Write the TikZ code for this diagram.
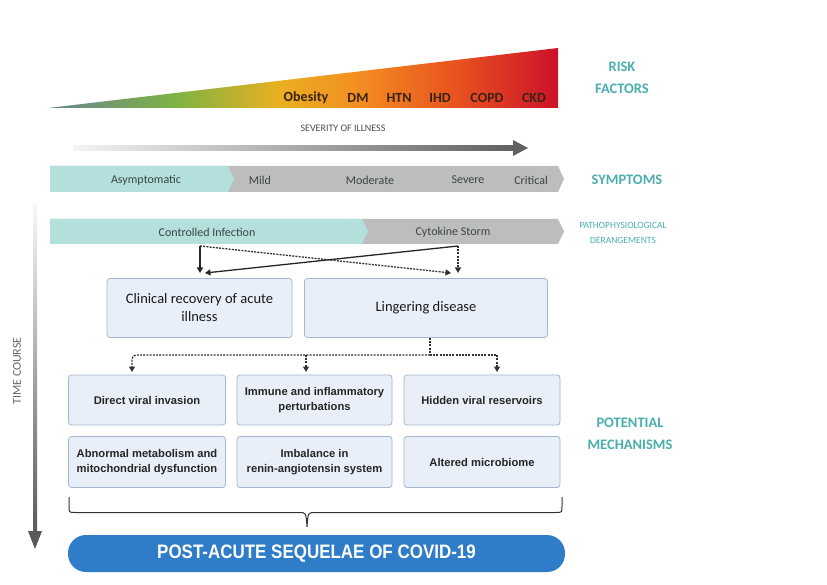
\documentclass[tikz,border=0pt]{standalone}
\usepackage{fontspec}
\setmainfont{Carlito}
\newfontfamily\boxfont{Liberation Sans}
\newfontfamily\bannerfont[FakeStretch=0.87]{Liberation Sans}
\usetikzlibrary{arrows.meta}

\definecolor{tealtxt}{HTML}{4AAEAF}
\definecolor{tealbar}{HTML}{B3E0DC}
\definecolor{graybar}{HTML}{BDBDBD}
\definecolor{bartxt}{HTML}{3A4545}
\definecolor{boxfill}{HTML}{E9EFF8}
\definecolor{boxline}{HTML}{A3B5CF}
\definecolor{pillblue}{HTML}{2F7CC8}
\definecolor{riskA}{HTML}{6A8494}
\definecolor{riskB}{HTML}{7DB343}
\definecolor{riskC}{HTML}{E9B021}
\definecolor{riskD}{HTML}{F39021}
\definecolor{riskE}{HTML}{E8521F}
\definecolor{riskF}{HTML}{CC1129}
\definecolor{risktxt}{HTML}{3A2414}

% left-to-right colour ramp of the risk wedge (stops between 25bp and 75bp span the path)
\pgfdeclarehorizontalshading{riskgrad}{100bp}{%
  color(0bp)=(riskA); color(25bp)=(riskA); color(37.5bp)=(riskB);
  color(47.5bp)=(riskC); color(55bp)=(riskD); color(65bp)=(riskE);
  color(75bp)=(riskF); color(100bp)=(riskF)}

\tikzset{
  headlbl/.style={text=tealtxt, align=center, font=\bfseries\fontsize{14.5}{22}\selectfont},
  barlbl/.style={text=bartxt, font=\fontsize{12}{13}\selectfont},
  risklbl/.style={text=risktxt, font=\bfseries\fontsize{14}{16}\selectfont},
  outcome/.style={draw=boxline, fill=boxfill, line width=0.8pt, rounded corners=3pt,
    align=center, text=black!90, minimum height=59pt, font=\fontsize{14.5}{18}\selectfont},
  mech/.style={draw=boxline, fill=boxfill, line width=0.8pt, rounded corners=3pt,
    align=center, text=black!85, minimum width=155pt,
    font=\boxfont\bfseries\fontsize{11.2}{15}\selectfont},
  solidarr/.style={line width=1.3pt, black!85, -{Triangle[length=5.5pt,width=6pt]}},
  dotline/.style={line width=1.3pt, black!80, dash pattern=on 2pt off 1.2pt},
  dotarr/.style={dotline, -{Triangle[length=5.5pt,width=6pt]}},
}

\begin{document}
\begin{tikzpicture}[x=1pt,y=-1pt]
\useasboundingbox (0,0) rectangle (827,585);

% risk factor wedge
\shade[shading=riskgrad] (48,108) -- (558,108) -- (558,48) -- cycle;
\node[risklbl] (obesity) at (306,98) {Obesity};
\node[risklbl] (dm)   at (358,98) {DM};
\node[risklbl] (htn)  at (399,98) {HTN};
\node[risklbl] (ihd)  at (440,98) {IHD};
\node[risklbl] (copd) at (487,98) {COPD};
\node[risklbl] (ckd)  at (534,98) {CKD};
\node[headlbl] (risk) at (622,78) {RISK\\FACTORS};

% severity arrow
\node[text=black!70, font=\fontsize{10}{11}\selectfont] (sev) at (343,128) {SEVERITY OF ILLNESS};
\shade[left color=black!4, right color=black!62] (73,145.5) rectangle (514,150.5);
\fill[black!62] (513,140) -- (528,148) -- (513,156) -- cycle;

% symptom bar
\fill[graybar] (50,166) -- (558,166) -- (564,179) -- (558,192) -- (50,192) -- cycle;
\fill[tealbar] (50,166) -- (228,166) -- (234,179) -- (228,192) -- (50,192) -- cycle;
\node[barlbl] (asym) at (146,180) {Asymptomatic};
\node[barlbl] (mild) at (260,180) {Mild};
\node[barlbl] (mod)  at (370,180) {Moderate};
\node[barlbl] (sevr) at (468,180) {Severe};
\node[barlbl] (crit) at (531,180) {Critical};
\node[headlbl] (symp) at (627,180) {SYMPTOMS};

% pathophysiology bar
\fill[graybar] (50,219) -- (558,219) -- (564,231.5) -- (558,244) -- (50,244) -- cycle;
\fill[tealbar] (50,219) -- (362,219) -- (368,231.5) -- (362,244) -- (50,244) -- cycle;
\node[barlbl] (ctrl) at (207,232) {Controlled Infection};
\node[barlbl] (storm) at (453,232) {Cytokine Storm};
\node[headlbl, font=\fontsize{9.5}{15.5}\selectfont] (patho) at (623,233) {PATHOPHYSIOLOGICAL\\DERANGEMENTS};

% outcomes after the acute phase
\node[outcome, minimum width=185pt] (recov) at (199.5,308) {Clinical recovery of acute\\illness};
\node[outcome, minimum width=243pt] (ling) at (426,308) {Lingering disease};

\coordinate (ctrlout)  at (200,246);
\coordinate (stormout) at (458,246);
\coordinate (recovin)  at (200,273);
\coordinate (recovinB) at (205,273);
\coordinate (lingin)   at (458,273);
\coordinate (linginB)  at (451,273);
\draw[solidarr] (ctrlout) -- (recovin);
\draw[dotarr] (ctrlout) -- (linginB);
\draw[solidarr] (stormout) -- (recovinB);
\draw[dotarr] (stormout) -- (lingin);

% potential mechanisms
\node[mech, minimum width=157pt, minimum height=50pt] (m1) at (147,400) {Direct viral invasion};
\node[mech, minimum height=50pt] (m2) at (314.5,400) {Immune and inflammatory\\perturbations};
\node[mech, minimum width=156pt, minimum height=50pt] (m3) at (482,400) {Hidden viral reservoirs};
\node[mech, minimum width=157pt, minimum height=51pt] (m4) at (147,462) {Abnormal metabolism and\\mitochondrial dysfunction};
\node[mech, minimum height=51pt] (m5) at (314.5,462) {Imbalance in\\renin-angiotensin system};
\node[mech, minimum width=156pt, minimum height=51pt] (m6) at (482,462) {Altered microbiome};
\node[headlbl] (pot) at (630,434) {POTENTIAL\\MECHANISMS};

\coordinate (lingout) at (430,338);
\coordinate (hub) at (430,355);
\coordinate (m1in) at (132,372);
\coordinate (m2in) at (306,372);
\coordinate (m3in) at (497,372);
\draw[dotline] (lingout) -- (hub);
\draw[dotarr, rounded corners=4pt] (hub) -| (m1in);
\draw[dotarr] (hub -| m2in) -- (m2in);
\draw[dotarr] (hub) -| (m3in);

% brace gathering the mechanisms
\draw[black!80, line width=1pt]
  (69,497) -- (69,506) .. controls (69,512.5) .. (75,512.5) -- (299,512.5)
  .. controls (306,512.5) .. (307,527) .. controls (308,512.5) .. (315,512.5)
  -- (556,512.5) .. controls (562,512.5) .. (562,506) -- (562,497);

% outcome banner
\node[fill=pillblue, rounded corners=18pt, minimum width=497pt, minimum height=37pt,
  text=white, font=\bannerfont\bfseries\fontsize{19.5}{21}\selectfont] (pasc) at (316.5,553.5)
  {POST-ACUTE SEQUELAE OF COVID-19};

% time course axis
\shade[top color=black!3, bottom color=black!65] (33,205) rectangle (37,533);
\fill[black!65] (28,531) -- (42,531) -- (35,549) -- cycle;
\node[rotate=90, text=black!60, font=\fontsize{12}{13}\selectfont] (time) at (17,371) {TIME COURSE};
\end{tikzpicture}
\end{document}
